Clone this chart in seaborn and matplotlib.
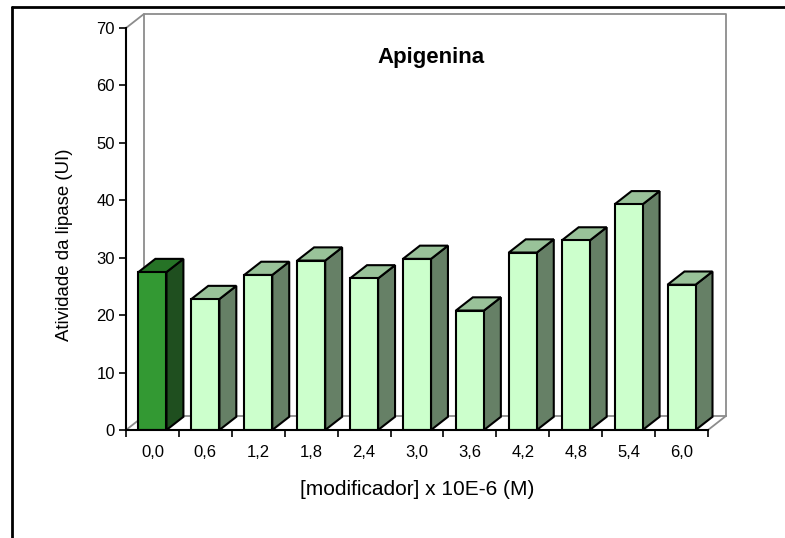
import matplotlib
matplotlib.use("Agg")
import matplotlib.pyplot as plt
from matplotlib.patches import Polygon
from matplotlib.lines import Line2D
import seaborn as sns
import pandas as pd

# Lipase activity for each modifier concentration
concentracoes = ["0,0", "0,6", "1,2", "1,8", "2,4", "3,0", "3,6", "4,2", "4,8", "5,4", "6,0"]
atividade = [27.5, 22.8, 27.0, 29.5, 26.4, 29.8, 20.8, 30.9, 33.0, 39.3, 25.3]
yticks = [0, 10, 20, 30, 40, 50, 60, 70]

# face colours: (front, side, top)
controle = ("#339933", "#1f4f1f", "#267326")
tratado = ("#ccffcc", "#668066", "#99c299")

sns.set_theme(style="white")
plt.rcParams["font.family"] = ["Liberation Sans", "DejaVu Sans"]
plt.rcParams.update({"text.color": "black", "axes.labelcolor": "black",
                     "xtick.color": "black", "ytick.color": "black"})

df = pd.DataFrame({"conc": concentracoes, "atividade": atividade})
frentes = [controle[0]] + [tratado[0]] * (len(concentracoes) - 1)

fig = plt.figure(figsize=(7.85, 5.38), dpi=100)
ax = fig.add_axes([126 / 785, 1 - 430 / 538, 582 / 785, 402 / 538])

sns.barplot(data=df, x="conc", y="atividade", hue="conc", palette=frentes,
            legend=False, width=0.53, edgecolor="black", linewidth=1.5,
            saturation=1, ax=ax, zorder=3)

ax.set_xlim(-0.5, len(concentracoes) - 0.5)
ax.set_ylim(0, 70)

# 3-D depth of the bars and of the back wall (data units)
dx_b, dy_b = 0.32, 2.3
dx_w, dy_w = 0.34, 2.45

for i, p in enumerate(list(ax.patches)):
    x0 = p.get_x()
    w = p.get_width()
    h = p.get_height()
    cores = controle if i == 0 else tratado
    lado = Polygon([(x0 + w, 0), (x0 + w + dx_b, dy_b), (x0 + w + dx_b, h + dy_b), (x0 + w, h)],
                   closed=True, facecolor=cores[1], edgecolor="black", linewidth=1.5,
                   zorder=2.9, joinstyle="miter", clip_on=False)
    topo = Polygon([(x0, h), (x0 + dx_b, h + dy_b), (x0 + w + dx_b, h + dy_b), (x0 + w, h)],
                   closed=True, facecolor=cores[2], edgecolor="black", linewidth=1.5,
                   zorder=2.9, joinstyle="miter", clip_on=False)
    ax.add_patch(lado)
    ax.add_patch(topo)

# back wall and floor outlines
xa, xb = -0.5, len(concentracoes) - 0.5
cinza = "#8c8c8c"
kw = dict(color=cinza, linewidth=1.3, clip_on=False, zorder=1)
ax.plot([xa + dx_w, xa + dx_w, xb + dx_w, xb + dx_w], [dy_w, 70 + dy_w, 70 + dy_w, dy_w], **kw)
ax.plot([xa + dx_w, xb + dx_w], [dy_w, dy_w], **kw)
ax.plot([xa, xa + dx_w], [0, dy_w], **kw)
ax.plot([xb, xb + dx_w], [0, dy_w], **kw)
ax.plot([xa, xa + dx_w], [70, 70 + dy_w], **kw)

for s in ["top", "right"]:
    ax.spines[s].set_visible(False)
for s in ["left", "bottom"]:
    ax.spines[s].set_color("black")
    ax.spines[s].set_linewidth(1.5)
    ax.spines[s].set_zorder(4)

ax.set_yticks(yticks)
ax.tick_params(axis="y", direction="out", length=5, width=1.2, color="black",
               labelsize=12, pad=3, left=True)
ax.set_xticks(range(len(concentracoes)))
ax.set_xticklabels(concentracoes)
ax.set_xticks([i - 0.5 for i in range(len(concentracoes) + 1)], minor=True)
ax.tick_params(axis="x", which="major", length=0, labelsize=12, pad=11)
ax.tick_params(axis="x", which="minor", direction="out", length=5, width=1.2,
               color="black", bottom=True)

ax.set_xlabel("[modificador] x 10E-6 (M)", fontsize=15)
ax.set_ylabel("Atividade da lipase (UI)", fontsize=13.4)
ax.xaxis.set_label_coords(0.5, -0.149)
ax.xaxis.label.set_verticalalignment("center")
ax.yaxis.set_label_coords(-0.105, 0.46)
ax.yaxis.label.set_verticalalignment("center")

fig.text(431.5 / 785, 1 - 63 / 538, "Apigenina", ha="center", va="baseline",
         fontsize=16, fontweight="bold")

# frame around the figure (left and top edges)
fig.add_artist(Line2D([12 / 785, 12 / 785], [0, 1 - 7 / 538], color="black", linewidth=2,
                      transform=fig.transFigure))
fig.add_artist(Line2D([12 / 785, 1], [1 - 7 / 538, 1 - 7 / 538], color="black", linewidth=2,
                      transform=fig.transFigure))

fig.savefig("out.png", dpi=100)
